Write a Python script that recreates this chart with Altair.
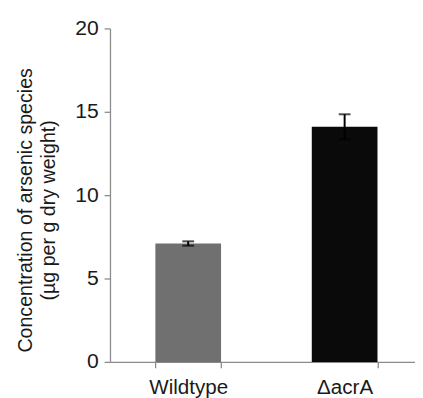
import altair as alt
import pandas as pd

strains = ["Wildtype", "ΔacrA"]
concentration = [7.1, 14.1]
error = [0.13, 0.75]
bar_colors = ["#707070", "#0a0a0a"]

df = pd.DataFrame({
    "strain": strains,
    "value": concentration,
    "err": error,
})
df["lo"] = df["value"] - df["err"]
df["hi"] = df["value"] + df["err"]

FONT = "Liberation Sans"
AXIS_GRAY = "#8a8a8a"
TEXT = "#1a1a1a"

x_scale = alt.Scale(domain=strains, range=[0, 319], paddingInner=0.58, paddingOuter=0.29)
y_scale = alt.Scale(domain=[0, 20], nice=False)

x_enc = alt.X(
    "strain:N",
    scale=x_scale,
    sort=strains,
    axis=alt.Axis(
        title=None,
        labelAngle=0,
        labelFontSize=21,
        labelFont=FONT,
        labelColor=TEXT,
        labelPadding=9,
        tickBand="extent",
        tickSize=6,
        tickColor=AXIS_GRAY,
        domainColor=AXIS_GRAY,
        tickWidth=1.3,
        domainWidth=1.3,
    ),
)

bars = alt.Chart(df).mark_bar().encode(
    x=x_enc,
    y=alt.Y(
        "value:Q",
        scale=y_scale,
        axis=alt.Axis(
            title=["Concentration of arsenic species", "(µg per g dry weight)"],
            values=[0, 5, 10, 15, 20],
            grid=False,
            labelFontSize=21.5,
            labelFont=FONT,
            labelColor=TEXT,
            labelPadding=6,
            tickSize=6,
            tickColor=AXIS_GRAY,
            domainColor=AXIS_GRAY,
            tickWidth=1.3,
            domainWidth=1.3,
            titleFont=FONT,
            titleFontSize=20,
            titleFontWeight="normal",
            titleColor=TEXT,
            titleLineHeight=23,
            titleBaseline="alphabetic",
            titleX=-80,
            titleY=185,
        ),
    ),
    color=alt.Color("strain:N", scale=alt.Scale(domain=strains, range=bar_colors), legend=None),
)

stems = alt.Chart(df).mark_rule(color="black", strokeWidth=2).encode(
    x=alt.X("strain:N", scale=x_scale, sort=strains),
    y=alt.Y("lo:Q", scale=y_scale),
    y2="hi:Q",
)

caps_hi = alt.Chart(df).mark_tick(color="black", thickness=2, size=12, orient="horizontal").encode(
    x=alt.X("strain:N", scale=x_scale, sort=strains),
    y=alt.Y("hi:Q", scale=y_scale),
)
caps_lo = alt.Chart(df).mark_tick(color="black", thickness=2, size=12, orient="horizontal").encode(
    x=alt.X("strain:N", scale=x_scale, sort=strains),
    y=alt.Y("lo:Q", scale=y_scale),
)

chart = alt.layer(bars, stems, caps_hi, caps_lo).properties(
    width=311,
    height=340,
    autosize=alt.AutoSizeParams(type="none"),
    padding={"left": 104, "top": 17, "right": 0, "bottom": 33},
).configure_view(stroke=None)

chart.save("out.html", embed_options={"renderer": "svg", "actions": False})
